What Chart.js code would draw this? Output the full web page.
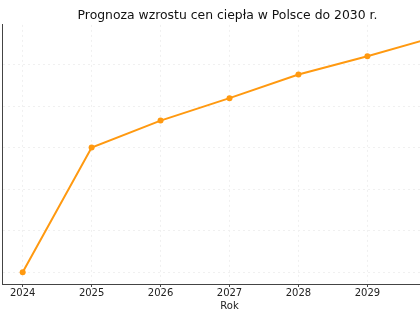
<!DOCTYPE html>
<html>
<head>
<meta charset="utf-8">
<script src="https://cdn.jsdelivr.net/npm/chart.js@4.4.1/dist/chart.umd.min.js"></script>
<style>
	html, body { margin: 0; padding: 0; background: #fff; }
	#crop { width: 420px; height: 320px; overflow: hidden; position: relative; }
	#heatChart { position: absolute; left: -2px; top: 0; }
</style>
</head>
<body>
<div id="crop"><canvas id="heatChart" width="464" height="320"></canvas></div>
<script>
const years = [2024, 2025, 2026, 2027, 2028, 2029, 2030];
// heat price index (y tick labels are cut off in the source, values read relative to grid)
const prices = [100, 130, 136.5, 141.9, 147.6, 152.0, 156.7];
const yTicks = [100, 110, 120, 130, 140, 150];

const heatChart = document.getElementById('heatChart');

// matplotlib-like 5% margins
const xSpan = years[years.length - 1] - years[0];
const yMin = Math.min(...prices);
const yMax = Math.max(...prices);
const ySpan = yMax - yMin;

const lineColor = '#ff9910';
const gridColor = '#f0f0f0';
const axisColor = '#444';

const newChart = new Chart(heatChart, {
	type: 'line',
	data: {
		datasets: [
			{
				label: 'Cena ciepła',
				data: years.map((y, i) => ({ x: y, y: prices[i] })),
				borderColor: lineColor,
				backgroundColor: lineColor,
				borderWidth: 2,
				pointRadius: 3,
				pointBorderWidth: 0,
				tension: 0,
			},
		],
	},
	options: {
		responsive: false,
		animation: false,
		layout: { padding: { left: 0, right: 5, top: 0, bottom: 8 } },
		plugins: {
			legend: { display: false },
			tooltip: { enabled: false },
			title: {
				display: true,
				text: 'Prognoza wzrostu cen ciepła w Polsce do 2030 r.',
				color: '#111',
				font: { family: 'DejaVu Sans', size: 12.4, weight: 'normal' },
				padding: { top: 8, bottom: 2 },
			},
		},
		scales: {
			x: {
				type: 'linear',
				min: years[0] - 0.05 * xSpan,
				max: years[years.length - 1] + 0.05 * xSpan,
				afterBuildTicks: (axis) => {
					axis.ticks = years.map((v) => ({ value: v }));
				},
				ticks: {
					color: '#222',
					padding: 0,
					maxRotation: 0,
					font: { family: 'DejaVu Sans', size: 10 },
					callback: (v) => String(v),
				},
				grid: { color: gridColor, tickColor: axisColor, tickLength: 3 },
				border: { display: true, color: axisColor, width: 1, dash: [2, 3] },
				title: {
					display: true,
					text: 'Rok',
					color: '#222',
					font: { family: 'DejaVu Sans', size: 10 },
					padding: { top: 1, bottom: 0 },
				},
			},
			y: {
				min: yMin - 0.05 * ySpan,
				max: yMax + 0.05 * ySpan,
				afterBuildTicks: (axis) => {
					axis.ticks = yTicks.map((v) => ({ value: v }));
				},
				ticks: { display: false },
				grid: { color: gridColor, drawTicks: false },
				border: { display: true, color: axisColor, width: 1, dash: [2, 3] },
			},
		},
	},
});
</script>
</body>
</html>
